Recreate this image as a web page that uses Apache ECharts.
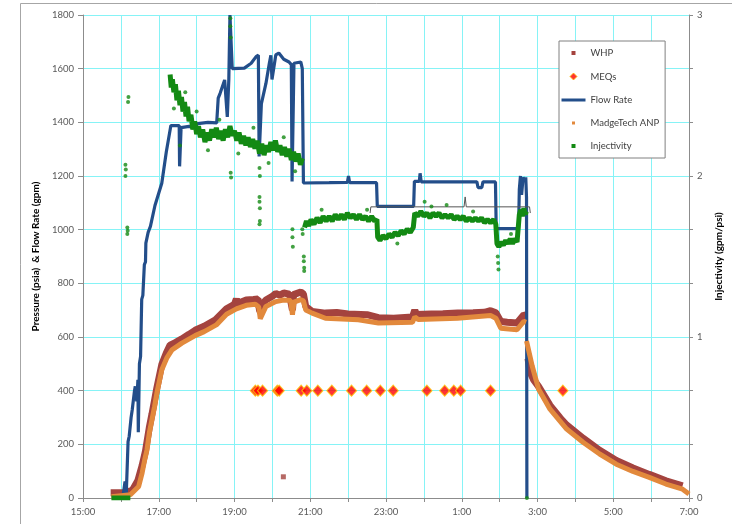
<!DOCTYPE html>
<html>
<head>
<meta charset="utf-8">
<script src="https://cdn.jsdelivr.net/npm/echarts@6/dist/echarts.min.js"></script>
<style>
html,body{margin:0;padding:0;background:#fff;}
#chart{width:732px;height:524px;}
</style>
</head>
<body>
<div id="chart"></div>
<script>
// time in hours since 00:00 of the first day (15 = 15:00, 31 = 7:00 next day)
const xTicks = [15, 31];
const leftAxisRange = [0, 1800];
const rightAxisRange = [0, 3];

const flowRate = [
  [16.05,0],[16.10,0],[16.11,62],[16.13,62],[16.14,5],[16.18,5],[16.19,210],[16.22,230],[16.27,300],
  [16.30,329],[16.36,400],[16.38,416],[16.42,360],[16.45,440],[16.46,245],[16.48,245],[16.49,500],
  [16.52,527],[16.55,740],[16.58,755],[16.62,870],[16.65,880],[16.66,950],[16.72,990],[16.78,1012],
  [16.90,1090],[17.08,1173],[17.20,1290],[17.32,1388],[17.54,1388],[17.55,1236],[17.57,1236],
  [17.59,1380],[17.80,1385],[17.90,1380],[18.03,1395],[18.30,1400],[18.53,1398],[18.57,1490],
  [18.62,1508],[18.74,1558],[18.79,1565],[18.81,1420],[18.83,1420],[18.85,1560],[18.88,1800],
  [18.92,1800],[18.94,1600],[19.26,1602],[19.44,1620],[19.57,1645],[19.63,1650],[19.65,1273],
  [19.68,1273],[19.71,1470],[19.83,1545],[19.92,1620],[19.96,1650],[19.99,1560],[20.03,1565],
  [20.09,1651],[20.17,1658],[20.30,1635],[20.44,1625],[20.50,1615],[20.52,1180],[20.55,1180],
  [20.57,1620],[20.75,1625],[20.79,1600],[20.82,1174],[21.50,1175],[21.98,1176],[22.01,1200],
  [22.04,1175],[22.75,1175],[22.77,1087],[23.73,1087],[23.75,1180],[23.88,1180],[23.90,1210],
  [23.93,1178],[25.40,1178],[25.43,1157],[25.53,1157],[25.56,1178],[25.89,1178],[25.91,1004],
  [26.50,1004],[26.52,1150],[26.55,1200],[26.58,1130],[26.62,1195],[26.66,1180],[26.69,1195],
  [26.71,1120],[26.72,0]
];

const whp = [
  [15.73,20],[16.10,20],[16.30,28],[16.45,65],[16.56,120],[16.65,175],[16.75,262],[16.82,312],
  [16.95,410],[17.08,497],[17.20,540],[17.30,570],[17.45,580],[17.60,592],[17.80,610],[17.96,625],
  [18.20,640],[18.50,664],[18.79,705],[19.00,722],[19.05,742],[19.08,725],[19.31,738],[19.50,740],
  [19.62,742],[19.66,700],[19.70,690],[19.75,725],[19.83,738],[20.00,752],[20.09,762],[20.20,756],
  [20.30,764],[20.45,760],[20.53,700],[20.56,758],[20.75,768],[20.82,760],[20.88,714],[21.05,695],
  [21.40,689],[21.70,691],[22.00,686],[22.50,683],[22.80,672],[23.20,670],[23.70,675],[23.76,700],
  [23.80,684],[24.20,686],[24.50,687],[24.89,689],[25.30,690],[25.60,692],[25.76,698],[25.90,690],
  [26.03,658],[26.20,655],[26.46,652],[26.64,683],[26.70,680],null,
  [26.75,520],[26.80,470],[26.90,440],[27.03,415],[27.33,345],[27.60,298],[27.77,272],[28.21,222],
  [28.64,178],[29.08,140],[29.52,112],[29.95,88],[30.39,64],[30.83,45]
];
const whpStray = [[20.29,79]];

const madgeTech = [
  [15.75,5],[16.25,12],[16.30,19],[16.47,43],[16.56,93],[16.63,143],[16.69,180],[16.75,242],
  [16.82,292],[16.89,341],[16.95,391],[17.08,478],[17.21,521],[17.35,552],[17.61,577],[17.96,605],
  [18.20,620],[18.52,645],[18.79,685],[19.05,705],[19.31,718],[19.55,722],[19.64,712],[19.68,668],
  [19.72,680],[19.83,714],[20.09,732],[20.30,738],[20.48,736],[20.53,683],[20.57,730],[20.75,739],
  [20.82,735],[20.88,701],[21.05,689],[21.40,670],[22.27,664],[22.80,652],[23.70,655],[23.76,675],
  [23.85,665],[24.89,670],[25.76,680],[25.90,670],[26.03,633],[26.46,627],[26.64,658],[26.70,655],null,
  [26.71,585],[26.86,492],[27.03,405],[27.33,331],[27.77,257],[28.21,207],[28.64,164],[29.08,126],
  [29.52,99],[29.95,77],[30.39,52],[30.83,33],[31.00,15]
];

const meqs = [
  [19.55,400],[19.62,400],[19.74,400],[20.13,400],[20.18,400],[20.76,400],[20.91,400],[21.20,400],
  [21.57,400],[22.09,400],[22.49,400],[22.85,400],[23.19,400],[24.08,400],[24.55,400],[24.79,400],
  [24.97,400],[25.76,400],[27.67,400]
];

const injectivity = [
  [15.75,0],[16.25,0],null,
  [17.30,2.63],[17.33,2.55],[17.36,2.60],[17.40,2.52],[17.44,2.57],[17.48,2.47],[17.52,2.53],[17.56,2.44],
  [17.60,2.49],[17.64,2.40],[17.68,2.46],[17.72,2.37],[17.76,2.43],[17.80,2.34],[17.85,2.38],[17.90,2.29],
  [17.95,2.34],[18.00,2.26],[18.05,2.31],[18.10,2.24],[18.16,2.29],[18.22,2.21],[18.28,2.27],[18.34,2.22],
  [18.40,2.29],[18.46,2.24],[18.52,2.30],[18.58,2.23],[18.64,2.28],[18.70,2.22],[18.76,2.29],[18.82,2.24],
  [18.88,2.31],[18.94,2.25],[19.00,2.28],[19.06,2.22],[19.12,2.27],[19.18,2.20],[19.24,2.25],[19.30,2.19],
  [19.36,2.24],[19.42,2.18],[19.48,2.23],[19.54,2.17],[19.60,2.22],[19.66,2.14],[19.72,2.20],[19.78,2.13],
  [19.84,2.19],[19.90,2.15],[19.96,2.21],[20.02,2.16],[20.08,2.22],[20.14,2.15],[20.20,2.19],[20.26,2.13],
  [20.32,2.18],[20.38,2.12],[20.44,2.17],[20.50,2.10],[20.56,2.15],[20.62,2.09],[20.68,2.14],[20.74,2.07],
  [20.79,2.11],null,
  [20.85,1.68],[20.90,1.72],[20.96,1.69],[21.02,1.73],[21.10,1.70],[21.18,1.74],[21.26,1.71],[21.34,1.75],
  [21.42,1.72],[21.50,1.75],[21.58,1.72],[21.66,1.76],[21.74,1.73],[21.82,1.76],[21.90,1.73],[21.98,1.77],
  [22.06,1.74],[22.14,1.76],[22.22,1.73],[22.30,1.76],[22.38,1.73],[22.46,1.75],[22.54,1.72],[22.62,1.75],
  [22.70,1.72],[22.76,1.73],
  [22.78,1.62],[22.84,1.60],[22.92,1.63],[23.00,1.61],[23.08,1.64],[23.16,1.62],[23.24,1.65],[23.32,1.63],
  [23.40,1.66],[23.48,1.64],[23.56,1.67],[23.64,1.65],[23.72,1.68],
  [23.76,1.77],[23.84,1.75],[23.92,1.78],[24.00,1.75],[24.08,1.77],[24.16,1.74],[24.24,1.77],[24.32,1.75],
  [24.40,1.77],[24.48,1.74],[24.56,1.76],[24.64,1.74],[24.72,1.76],[24.80,1.73],[24.88,1.75],[24.96,1.73],
  [25.04,1.75],[25.12,1.72],[25.20,1.74],[25.28,1.72],[25.36,1.74],[25.44,1.72],[25.52,1.74],[25.60,1.71],
  [25.68,1.73],[25.76,1.71],[25.84,1.73],[25.90,1.70],
  [25.93,1.58],[25.98,1.56],[26.04,1.59],[26.10,1.57],[26.16,1.60],[26.22,1.58],[26.28,1.61],[26.34,1.58],
  [26.40,1.61],[26.46,1.59],[26.50,1.60],
  [26.52,1.76],[26.56,1.79],[26.60,1.75],[26.64,1.80],[26.68,1.76],[26.70,1.78]
];
const injectivityStray = [
  [16.12,2.00],[16.13,2.04],[16.12,2.07],[16.17,1.64],[16.18,1.66],[16.17,1.68],[16.19,2.46],[16.20,2.49],
  [18.89,2.98],[18.89,2.93],[18.90,2.86],[18.90,2.02],[18.91,1.99],[19.66,2.05],[19.67,2.00],[19.66,1.87],
  [19.66,1.84],[19.67,1.80],[19.67,1.72],[19.66,1.70],[20.53,1.67],[20.53,1.62],[20.54,1.56],[20.79,1.67],
  [20.80,1.64],[20.83,1.50],[20.83,1.47],[20.84,1.43],[20.84,1.41],[17.56,2.19],[25.95,1.50],[25.96,1.46],
  [25.97,1.42],[26.72,0],[17.40,2.42],[17.70,2.52],[18.00,2.40],[18.30,2.16],[18.60,2.35],[19.10,2.14],
  [19.50,2.30],[19.90,2.08],[20.30,2.24],[20.60,2.03],[21.30,1.79],[22.50,1.79],[23.30,1.58],[24.02,1.84],
  [24.20,1.81],[24.60,1.82],[25.30,1.78],[26.30,1.64]
];

const bracket = [
  [22.58,1062],[22.60,1085],[25.06,1085],[25.09,1122],[25.12,1085],[26.79,1085],[26.81,1062]
];

const FONT = 'Lato, "Liberation Sans", sans-serif';
const GRID_COLOR = '#86F3F6';
const AXIS_COLOR = '#8C8C8C';
const C_WHP = '#A4433E', C_ANP = '#E2893C', C_FLOW = '#234E8A', C_INJ = '#138A13';

const chart = echarts.init(document.getElementById('chart'), null, {renderer: 'canvas'});
chart.setOption({
  animation: false,
  backgroundColor: '#fff',
  graphic: [{
    type: 'rect', shape: {x: 20.5, y: 3.5, width: 800, height: 600},
    style: {fill: 'none', stroke: '#A6A6A6', lineWidth: 1}, z: -1
  }],
  grid: {left: 83, right: 38, top: 15, bottom: 26, containLabel: false},
  xAxis: {
    type: 'value', min: xTicks[0], max: xTicks[1], interval: 1,
    axisLine: {lineStyle: {color: AXIS_COLOR}},
    axisTick: {show: true, length: 4, lineStyle: {color: AXIS_COLOR}},
    axisLabel: {
      margin: 9, color: '#595959', fontSize: 9.5, fontFamily: FONT,
      formatter: v => (Math.round(v) % 2 === 1) ? ((Math.round(v) % 24) + ':00') : ''
    },
    splitLine: {show: true, lineStyle: {color: GRID_COLOR, width: 1}}
  },
  yAxis: [{
    type: 'value', min: leftAxisRange[0], max: leftAxisRange[1], interval: 200,
    name: 'Pressure (psia)  & Flow Rate (gpm)', nameLocation: 'middle', nameGap: 41, nameRotate: 90,
    nameTextStyle: {fontWeight: 'bold', fontSize: 10, color: '#000', fontFamily: FONT},
    axisLine: {show: true, lineStyle: {color: AXIS_COLOR}},
    axisTick: {show: true, length: 5, lineStyle: {color: AXIS_COLOR}},
    axisLabel: {margin: 9, color: '#595959', fontSize: 9.5, fontFamily: FONT, formatter: v => String(Math.round(v))},
    splitLine: {show: true, lineStyle: {color: GRID_COLOR, width: 1}}
  }, {
    type: 'value', min: rightAxisRange[0], max: rightAxisRange[1], interval: 1/3, position: 'right',
    name: 'Injectivity (gpm/psi)', nameLocation: 'middle', nameGap: 25, nameRotate: 90,
    nameTextStyle: {fontWeight: 'bold', fontSize: 10, color: '#000', fontFamily: FONT},
    axisLine: {show: true, lineStyle: {color: AXIS_COLOR}},
    axisTick: {show: true, length: 4, lineStyle: {color: AXIS_COLOR}},
    axisLabel: {
      margin: 8, color: '#595959', fontSize: 9.5, fontFamily: FONT,
      formatter: v => Math.abs(v - Math.round(v)) < 1e-6 ? String(Math.round(v)) : ''
    },
    splitLine: {show: false}
  }],
  legend: {
    orient: 'vertical', left: 559, top: 41,
    padding: [6, 6, 6, 2], itemGap: 11, itemWidth: 24, itemHeight: 12,
    borderColor: '#808080', borderWidth: 1, backgroundColor: '#fff',
    textStyle: {fontSize: 9.5, color: '#404040', fontFamily: FONT},
    data: [
      {name: 'WHP', icon: 'path://M0,0M24,0M24,12M0,12M10,4L14,4L14,8L10,8Z',
        itemStyle: {color: C_WHP, borderWidth: 0}},
      {name: 'MEQs', icon: 'path://M0,0M24,0M24,12M0,12M12,2.5L15.5,6L12,9.5L8.5,6Z',
        itemStyle: {color: '#FF0000', borderColor: '#FFC000', borderWidth: 1}},
      {name: 'Flow Rate', icon: 'path://M0,0M24,0M24,12M0,12M0,4.5L24,4.5L24,7.5L0,7.5Z',
        itemStyle: {color: C_FLOW, borderWidth: 0}},
      {name: 'MadgeTech ANP', icon: 'path://M0,0M24,0M24,12M0,12M10.5,4.5L13.5,4.5L13.5,7.5L10.5,7.5Z',
        itemStyle: {color: C_ANP, borderWidth: 0}},
      {name: 'Injectivity', icon: 'path://M0,0M24,0M24,12M0,12M10,4L14,4L14,8L10,8Z',
        itemStyle: {color: C_INJ, borderWidth: 0}}
    ]
  },
  series: [
    {name: 'WHP', type: 'line', data: whp, showSymbol: false, connectNulls: false,
      lineStyle: {color: C_WHP, width: 7}, itemStyle: {color: C_WHP}, z: 2},
    {name: 'WHP', type: 'scatter', data: whpStray, symbol: 'rect', symbolSize: 5,
      itemStyle: {color: C_WHP}, z: 2},
    {name: 'MEQs', type: 'scatter', data: meqs, symbol: 'diamond', symbolSize: [10, 11],
      itemStyle: {color: '#FF0000', borderColor: '#FFC000', borderWidth: 1.2}, z: 6},
    {name: 'Flow Rate', type: 'line', data: flowRate, showSymbol: false,
      lineStyle: {color: C_FLOW, width: 3.2}, itemStyle: {color: C_FLOW}, z: 3},
    {name: 'MadgeTech ANP', type: 'line', data: madgeTech, showSymbol: false, connectNulls: false,
      lineStyle: {color: C_ANP, width: 5}, itemStyle: {color: C_ANP}, z: 4},
    {name: 'Injectivity', type: 'line', yAxisIndex: 1, data: injectivity, showSymbol: false, connectNulls: false,
      lineStyle: {color: C_INJ, width: 5}, itemStyle: {color: C_INJ}, z: 5},
    {name: 'Injectivity', type: 'scatter', yAxisIndex: 1, data: injectivityStray, symbol: 'circle', symbolSize: 4,
      itemStyle: {color: C_INJ}, z: 5},
    {name: 'bracket', type: 'line', data: bracket, showSymbol: false, silent: true,
      lineStyle: {color: '#555555', width: 1}, z: 3}
  ]
});
</script>
</body>
</html>
